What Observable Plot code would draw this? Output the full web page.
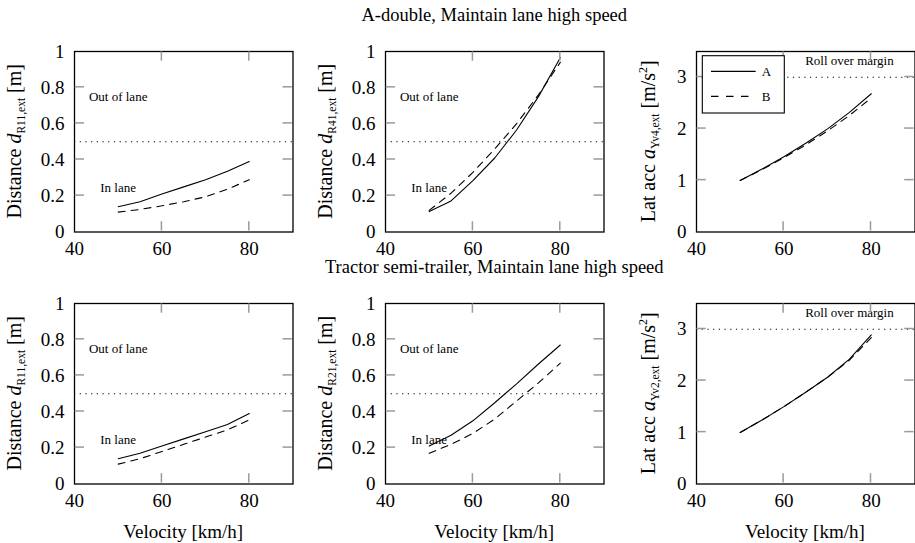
<!DOCTYPE html>
<html><head><meta charset="utf-8">
<script src="https://cdn.jsdelivr.net/npm/d3@7"></script>
<script src="https://cdn.jsdelivr.net/npm/@observablehq/plot@0.6"></script>
<style>
html,body{margin:0;padding:0;background:#fff;}
#chart{position:relative;width:915px;height:543px;overflow:hidden;font-family:"Liberation Serif","Times New Roman",serif;}
#chart svg{position:absolute;}
</style></head><body><div id="chart"></div>
<script>
// ---- data ----
const velocity = [50, 55, 60, 65, 70, 75, 80];
const xTicks = [40, 60, 80];
const distTicks = [0, 0.2, 0.4, 0.6, 0.8, 1];
const accTicks = [0, 1, 2, 3];
const seriesNames = ["A", "B"];
// A-double
const adR11A = [0.14, 0.168, 0.21, 0.25, 0.29, 0.337, 0.39];
const adR11B = [0.11, 0.125, 0.145, 0.168, 0.195, 0.237, 0.29];
const adR41A = [0.113, 0.172, 0.285, 0.41, 0.565, 0.75, 0.965];
const adR41B = [0.12, 0.215, 0.33, 0.46, 0.6, 0.76, 0.94];
const adAy4A = [1.0, 1.22, 1.46, 1.72, 2.0, 2.32, 2.68];
const adAy4B = [1.0, 1.21, 1.44, 1.69, 1.96, 2.26, 2.6];
// Tractor semi-trailer
const tsR11A = [0.14, 0.17, 0.21, 0.25, 0.29, 0.33, 0.39];
const tsR11B = [0.11, 0.14, 0.18, 0.22, 0.26, 0.30, 0.355];
const tsR21A = [0.21, 0.27, 0.35, 0.45, 0.555, 0.665, 0.77];
const tsR21B = [0.17, 0.22, 0.28, 0.36, 0.46, 0.56, 0.67];
const tsAy2A = [1.0, 1.24, 1.5, 1.78, 2.07, 2.42, 2.89];
const tsAy2B = [1.0, 1.24, 1.5, 1.78, 2.07, 2.4, 2.84];
// limits and notes
const laneLimit = 0.5;
const rollLimit = 3;
const laneNotes = [{v: 43.3, d: 0.75, t: "Out of lane"}, {v: 45.9, d: 0.245, t: "In lane"}];
const rollNotes = [{v: 75, d: 3.31, t: "Roll over margin"}];
const titles = ["A-double, Maintain lane high speed", "Tractor semi-trailer, Maintain lane high speed"];
const xLabel = "Velocity [km/h]";

// ---- layout ----
const FW = 218.5, FH = 180.5;
const colX = [74, 385, 695.7];
const rowY = [50.7, 302.7];
const ML = 74, MR = 1, MT = 12, MB = 30;
const FONT = "'Liberation Serif','Times New Roman',serif";
const TICKLEN = 10;
const TICKCOLOR = "#9a9a9a";

const panels = [
  {r: 0, c: 0, A: adR11A, B: adR11B, kind: "dist", sub: "R11,ext"},
  {r: 0, c: 1, A: adR41A, B: adR41B, kind: "dist", sub: "R41,ext"},
  {r: 0, c: 2, A: adAy4A, B: adAy4B, kind: "acc", sub: "Yv4,ext", legend: true},
  {r: 1, c: 0, A: tsR11A, B: tsR11B, kind: "dist", sub: "R11,ext"},
  {r: 1, c: 1, A: tsR21A, B: tsR21B, kind: "dist", sub: "R21,ext"},
  {r: 1, c: 2, A: tsAy2A, B: tsAy2B, kind: "acc", sub: "Yv2,ext"}
];

const chart = document.getElementById("chart");
const tickJobs = [];

for (const p of panels) {
  const rows = velocity.map((v, i) => ({v, a: p.A[i], b: p.B[i]}));
  const isDist = p.kind === "dist";
  const yTicks = isDist ? distTicks : accTicks;
  const yDomain = isDist ? [0, 1] : [0, 3.5];
  const limit = isDist ? laneLimit : rollLimit;
  const notes = isDist ? laneNotes : rollNotes;
  const innerY = yTicks.filter(v => v > yDomain[0] && v < yDomain[1]);
  const innerX = xTicks.filter(v => v > 40 && v < 90);
  const svg = Plot.plot({
    width: FW + ML + MR,
    height: FH + MT + MB,
    marginLeft: ML, marginRight: MR, marginTop: MT, marginBottom: MB,
    style: {fontFamily: FONT, fontSize: "19px", background: "transparent", overflow: "visible"},
    x: {domain: [40, 90], label: null},
    y: {domain: yDomain, label: null},
    marks: [
      Plot.ruleY([limit], {stroke: "black", strokeWidth: 1.1, strokeDasharray: "1.2,4.5"}),
      Plot.text(notes, {x: "v", y: "d", text: "t", textAnchor: isDist ? "start" : "middle", fontSize: 13, fill: "black"}),
      Plot.line(rows, {x: "v", y: "b", stroke: "black", strokeWidth: 1.1, strokeDasharray: "7,6"}),
      Plot.line(rows, {x: "v", y: "a", stroke: "black", strokeWidth: 1.1}),
      Plot.axisX(xTicks, {anchor: "bottom", tickSize: 0, tickPadding: 9, tickFormat: d => String(d), fontSize: 19, fill: "black"}),
      Plot.axisY(yTicks, {anchor: "left", tickSize: 0, tickPadding: 10, tickFormat: d => String(d), fontSize: 19, fill: "black"}),
      Plot.frame({stroke: "black", strokeWidth: 1.3})
    ]
  });
  const offX = colX[p.c] - ML, offY = rowY[p.r] - MT;
  svg.style.left = offX + "px";
  svg.style.top = offY + "px";
  tickJobs.push({xs: svg.scale("x"), ys: svg.scale("y"), innerX, innerY, offX, offY});
  const s = d3.select(svg);
  // y axis label with italic symbol and subscript
  const bx = isDist ? ML - 53 : ML - 40.7;
  const t = s.append("text")
    .attr("transform", `translate(${bx},${MT + FH / 2}) rotate(-90)`)
    .attr("text-anchor", "middle")
    .attr("font-family", FONT).attr("font-size", 20).attr("fill", "black");
  t.append("tspan").text(isDist ? "Distance " : "Lat acc ");
  t.append("tspan").attr("font-style", "italic").text(isDist ? "d" : "a");
  t.append("tspan").attr("font-size", 11.5).attr("dy", 4).text(p.sub);
  if (isDist) {
    t.append("tspan").attr("dy", -4).text(" [m]");
  } else {
    t.append("tspan").attr("dy", -4).text(" [m/s");
    t.append("tspan").attr("font-size", 12).attr("dy", -8).text("2");
    t.append("tspan").attr("dy", 8).text("]");
  }
  chart.appendChild(svg);
}

// overlay: inward ticks, legend, titles and x labels
const ov = d3.select(chart).append("svg")
  .attr("width", 915).attr("height", 543)
  .style("left", "0px").style("top", "0px").style("pointer-events", "none");
const tg = ov.append("g").attr("fill", "none");
for (const j of tickJobs) {
  const top = j.offY + MT, bottom = j.offY + MT + FH, left = j.offX + ML, right = j.offX + ML + FW;
  for (const v of j.innerX) {
    const px = j.offX + j.xs.apply(v);
    tg.append("line").attr("x1", px).attr("x2", px).attr("y1", bottom - 0.7).attr("y2", bottom - TICKLEN)
      .attr("stroke", TICKCOLOR).attr("stroke-width", 1.5);
    tg.append("line").attr("x1", px).attr("x2", px).attr("y1", top + 0.7).attr("y2", top + TICKLEN)
      .attr("stroke", TICKCOLOR).attr("stroke-width", 1.5);
  }
  for (const v of j.innerY) {
    const py = j.offY + j.ys.apply(v);
    tg.append("line").attr("y1", py).attr("y2", py).attr("x1", left + 0.7).attr("x2", left + TICKLEN)
      .attr("stroke", TICKCOLOR).attr("stroke-width", 1.5);
    tg.append("line").attr("y1", py).attr("y2", py).attr("x1", right - 0.7).attr("x2", right - TICKLEN)
      .attr("stroke", TICKCOLOR).attr("stroke-width", 1.5);
  }
}
// legend (top-right panel)
{
  const lx = colX[2], ly = rowY[0];
  const g = ov.append("g").attr("transform", `translate(${lx},${ly})`);
  g.append("rect").attr("x", 6.6).attr("y", 5).attr("width", 82).attr("height", 57.3)
    .attr("fill", "white").attr("stroke", "black").attr("stroke-width", 1.1);
  seriesNames.forEach((name, i) => {
    const yy = 20.7 + i * 25;
    g.append("line").attr("x1", 15.3).attr("x2", 60).attr("y1", yy).attr("y2", yy)
      .attr("stroke", "black").attr("stroke-width", 1.1)
      .attr("stroke-dasharray", i === 0 ? null : "7.5,7.5");
    g.append("text").attr("x", 66).attr("y", yy).attr("dy", "0.35em")
      .attr("font-family", FONT).attr("font-size", 13).attr("fill", "black").text(name);
  });
}
const titleX = colX[1] + FW / 2;
[21, 273.3].forEach((y, i) => {
  ov.append("text").attr("x", titleX).attr("y", y).attr("text-anchor", "middle")
    .attr("font-family", FONT).attr("font-size", 18.5).attr("fill", "black").text(titles[i]);
});
colX.forEach(x0 => {
  ov.append("text").attr("x", x0 + FW / 2).attr("y", 538.3).attr("text-anchor", "middle")
    .attr("font-family", FONT).attr("font-size", 19).attr("fill", "black").text(xLabel);
});
</script></body></html>
